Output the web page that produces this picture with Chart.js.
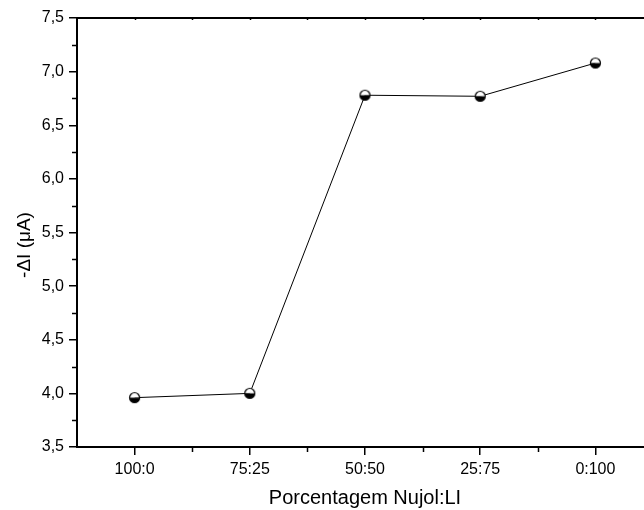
<!DOCTYPE html>
<html>
<head>
<meta charset="utf-8">
<script src="https://cdn.jsdelivr.net/npm/chart.js@4.4.1/dist/chart.umd.min.js"></script>
<style>
  html, body { margin: 0; padding: 0; background: #fff; overflow: hidden; }
  #wrap { width: 660px; height: 510px; position: relative; }
</style>
</head>
<body>
<div id="wrap"><canvas id="chart"></canvas></div>
<script>
const categories = ['100:0', '75:25', '50:50', '25:75', '0:100'];
const values = [3.96, 4.00, 6.78, 6.77, 7.08];
const yTickValues = [3.5, 4.0, 4.5, 5.0, 5.5, 6.0, 6.5, 7.0, 7.5];
const yTitle = '-ΔI (μA)';

const FONT = '"Liberation Sans", Arial, sans-serif';

// half filled circle marker (white top, black bottom)
function halfMarker() {
  const c = document.createElement('canvas');
  c.width = 13; c.height = 13;
  const g = c.getContext('2d');
  g.fillStyle = '#fff';
  g.beginPath(); g.arc(6.5, 6.5, 5, Math.PI, 0); g.fill();
  g.fillStyle = '#000';
  g.beginPath(); g.arc(6.5, 6.5, 5, 0, Math.PI); g.fill();
  g.strokeStyle = '#000';
  g.lineWidth = 1.2;
  g.beginPath(); g.arc(6.5, 6.5, 5, 0, Math.PI * 2); g.stroke();
  return c;
}

// minor ticks, top frame line and the y title (sits a bit below centre in the original)
const frame = {
  id: 'frame',
  afterDraw(chart) {
    const { ctx, chartArea: a, scales: { x, y } } = chart;
    ctx.save();
    ctx.strokeStyle = '#000';
    ctx.lineWidth = 2;
    ctx.beginPath();
    ctx.moveTo(a.left, a.top);
    ctx.lineTo(a.right, a.top);
    ctx.stroke();

    ctx.lineWidth = 1.5;
    ctx.beginPath();
    for (let i = 0; i < yTickValues.length - 1; i++) {
      const py = Math.round(y.getPixelForValue((yTickValues[i] + yTickValues[i + 1]) / 2)) + 0.5;
      ctx.moveTo(a.left - 5, py);
      ctx.lineTo(a.left, py);
    }
    for (let i = 0; i < categories.length; i++) {
      const px = Math.round(x.getPixelForValue(i + 0.5)) + 0.5;
      ctx.moveTo(px, a.bottom);
      ctx.lineTo(px, a.bottom + 5);
    }
    for (let i = 0; i < categories.length * 2; i++) {
      const px = Math.round(x.getPixelForValue(i / 2)) + 0.5;
      ctx.moveTo(px, a.top);
      ctx.lineTo(px, a.top + 2);
    }
    ctx.stroke();

    ctx.translate(25, 245);
    ctx.rotate(-Math.PI / 2);
    ctx.fillStyle = '#000';
    ctx.font = '19px ' + FONT;
    ctx.textAlign = 'center';
    ctx.textBaseline = 'middle';
    ctx.fillText(yTitle, 0, 0);
    ctx.restore();
  }
};

new Chart(document.getElementById('chart'), {
  type: 'line',
  data: {
    datasets: [{
      data: values.map((v, i) => ({ x: i, y: v })),
      borderColor: '#000',
      borderWidth: 1,
      pointStyle: halfMarker(),
      pointRadius: 6,
      tension: 0,
    }],
  },
  options: {
    responsive: true,
    maintainAspectRatio: false,
    animation: false,
    layout: { padding: { top: 18, right: 7, left: 0, bottom: 0 } },
    plugins: {
      legend: { display: false },
      tooltip: { enabled: false },
    },
    scales: {
      x: {
        type: 'linear',
        min: -0.5,
        max: 4.5,
        afterBuildTicks: (s) => { s.ticks = categories.map((_, i) => ({ value: i })); },
        afterFit: (s) => { s.height = 63; },
        ticks: {
          callback: (v) => categories[v],
          color: '#000',
          padding: 5,
          maxRotation: 0,
          font: { family: FONT, size: 16 },
        },
        grid: { drawOnChartArea: false, tickLength: 8, color: '#000', lineWidth: 1.5 },
        border: { color: '#000', width: 2 },
        title: {
          display: true,
          text: 'Porcentagem Nujol:LI',
          color: '#000',
          font: { family: FONT, size: 20 },
          padding: { top: 0, bottom: 0 },
        },
      },
      y: {
        min: 3.5,
        max: 7.5,
        afterBuildTicks: (s) => { s.ticks = yTickValues.map((v) => ({ value: v })); },
        afterFit: (s) => { s.width = 77; },
        ticks: {
          callback: (v) => v.toFixed(1).replace('.', ','),
          color: '#000',
          padding: 5,
          font: { family: FONT, size: 16 },
        },
        grid: { drawOnChartArea: false, tickLength: 8, color: '#000', lineWidth: 1.5 },
        border: { color: '#000', width: 2 },
      },
    },
  },
  plugins: [frame],
});
</script>
</body>
</html>
